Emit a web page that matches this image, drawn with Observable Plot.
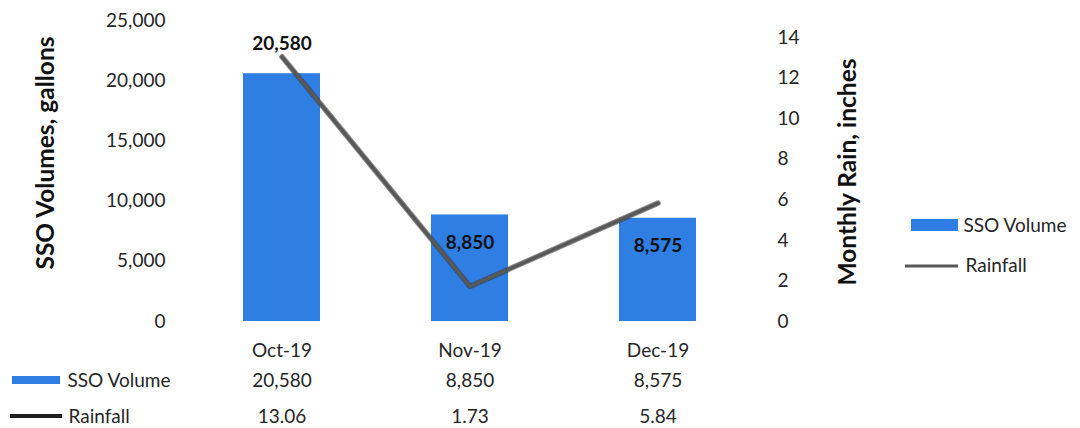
<!DOCTYPE html>
<html><head><meta charset="utf-8">
<script src="https://cdn.jsdelivr.net/npm/d3@7"></script>
<script src="https://cdn.jsdelivr.net/npm/@observablehq/plot@0.6"></script>
<style>body{margin:0;background:#fff} #chart{width:1080px;height:428px}</style>
</head><body><div id="chart"></div>
<script>
const months = ["Oct-19", "Nov-19", "Dec-19"];
const ssoVolume = [20580, 8850, 8575];
const rainfall = [13.06, 1.73, 5.84];
const volumeTicks = [0, 5000, 10000, 15000, 20000, 25000];
const rainTicks = [0, 2, 4, 6, 8, 10, 12, 14];
const seriesNames = ["SSO Volume", "Rainfall"];
const axisTitles = ["SSO Volumes, gallons", "Monthly Rain, inches"];

const volMax = 25000, rainMax = 14.85;
const k = volMax / rainMax;
const rows = months.map((m, i) => ({month: m, volume: ssoVolume[i], rain: rainfall[i], rainScaled: rainfall[i] * k, i}));
const font = "Lato, 'Open Sans', sans-serif";
const fmt = d3.format(",");
const blue = "#2e7ee3";
const gray = "#585858";
const txt = {fontSize: 19, fill: "#262626"};
const title = {rotate: -90, textAnchor: "middle", lineAnchor: "middle", fontWeight: "bold", fontSize: 24.5, fill: "#111", letterSpacing: "1.5px"};

const plot = Plot.plot({
  width: 1080, height: 428,
  marginLeft: 188, marginRight: 328, marginTop: 20, marginBottom: 107,
  style: {fontFamily: font, fontSize: "19px", color: "#262626", background: "#fff"},
  x: {type: "band", domain: months, paddingInner: 0.59, paddingOuter: 0.295, axis: null},
  y: {domain: [0, volMax], axis: null},
  marks: [
    Plot.barY(rows, {x: "month", y: "volume", fill: blue}),
    Plot.line(rows, {x: "month", y: "rainScaled", stroke: "#3a3a3a", strokeWidth: 5.5, strokeOpacity: 0.6}),
    Plot.line(rows, {x: "month", y: "rainScaled", stroke: gray, strokeWidth: 3.5}),
    Plot.axisY(volumeTicks, {anchor: "left", tickSize: 0, tickPadding: 23, tickFormat: fmt, label: null, ...txt}),
    Plot.axisY(rainTicks.map(r => r * k), {anchor: "right", tickSize: 0, tickPadding: 25, tickFormat: d => String(Math.round(d / k)), label: null, ...txt}),
    Plot.text(rows.filter(d => d.i === 0), {x: "month", y: "volume", text: d => fmt(d.volume), dy: -30, fontWeight: "bold", fontSize: 19, fill: "#111"}),
    Plot.text(rows.filter(d => d.i > 0), {x: "month", y: "volume", text: d => fmt(d.volume), dy: 28, fontWeight: "bold", fontSize: 19, fill: "#111"}),
    Plot.text([axisTitles[0]], {frameAnchor: "left", dx: -142, dy: -18, ...title}),
    Plot.text([axisTitles[1]], {frameAnchor: "right", dx: 96, dy: 1, ...title}),
    // data table
    Plot.text(rows, {x: "month", frameAnchor: "bottom", lineAnchor: "middle", dy: 29, text: "month", ...txt}),
    Plot.text(rows, {x: "month", frameAnchor: "bottom", lineAnchor: "middle", dy: 59, text: d => fmt(d.volume), ...txt}),
    Plot.text(rows, {x: "month", frameAnchor: "bottom", lineAnchor: "middle", dy: 95, text: d => d.rain.toFixed(2), ...txt}),
    Plot.text([seriesNames[0]], {frameAnchor: "bottom-left", lineAnchor: "middle", dx: -121, dy: 59, textAnchor: "start", ...txt}),
    Plot.text([seriesNames[1]], {frameAnchor: "bottom-left", lineAnchor: "middle", dx: -120, dy: 95, textAnchor: "start", ...txt}),
    // legend labels
    Plot.text([seriesNames[0]], {frameAnchor: "right", lineAnchor: "middle", dx: 211, dy: 54.5, textAnchor: "start", ...txt}),
    Plot.text([seriesNames[1]], {frameAnchor: "right", lineAnchor: "middle", dx: 213, dy: 94.5, textAnchor: "start", ...txt})
  ]
});

const svg = d3.select(plot);
const g = svg.append("g");
// table swatches
g.append("rect").attr("x", 12).attr("y", 376).attr("width", 48).attr("height", 8).attr("fill", blue);
g.append("line").attr("x1", 10).attr("x2", 62).attr("y1", 416).attr("y2", 416).attr("stroke", "#1e1e1e").attr("stroke-width", 4);
// legend swatches
g.append("rect").attr("x", 911).attr("y", 219).attr("width", 47).attr("height", 12).attr("fill", blue);
g.append("line").attr("x1", 905).attr("x2", 958).attr("y1", 266).attr("y2", 266).attr("stroke", gray).attr("stroke-width", 3);

document.getElementById("chart").appendChild(plot);
</script>
</body></html>
